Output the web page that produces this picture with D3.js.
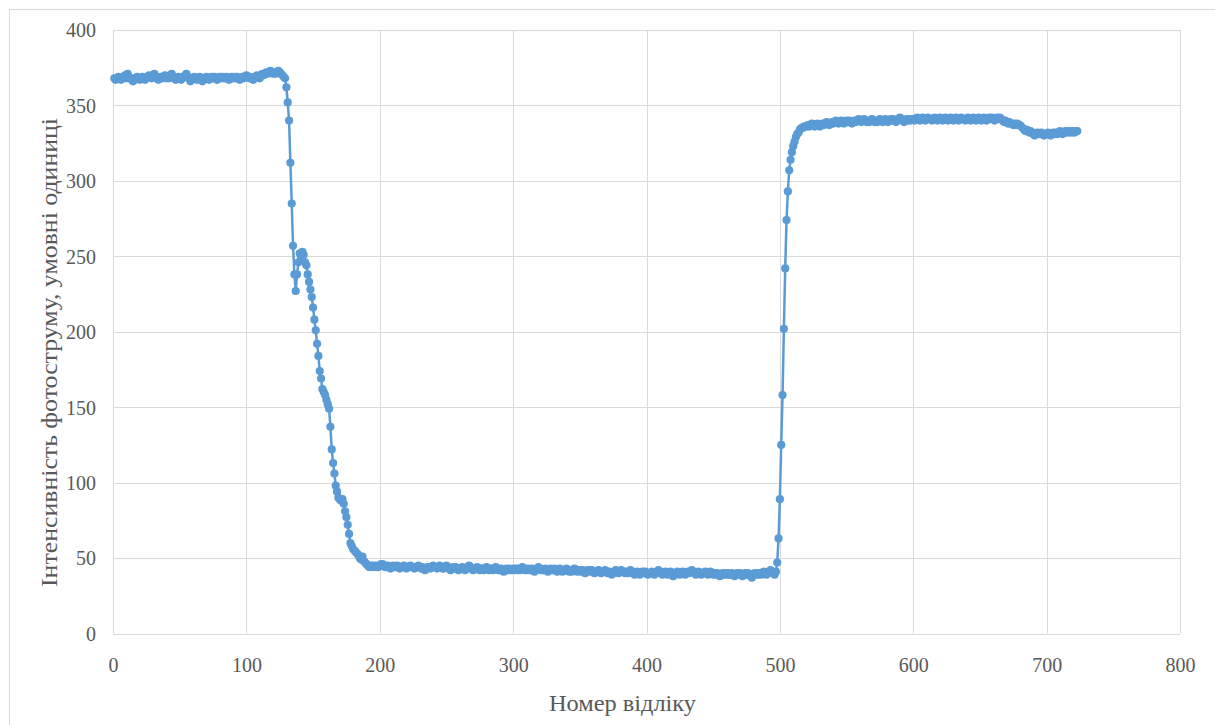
<!DOCTYPE html>
<html>
<head>
<meta charset="utf-8">
<script src="https://cdn.jsdelivr.net/npm/d3@7"></script>
<style>
  html, body { margin: 0; padding: 0; background: #ffffff; }
  svg { display: block; }
  svg text { font-family: 'Liberation Serif', 'Times New Roman', Times, 'DejaVu Serif', serif !important; fill: #595959; }
</style>
</head>
<body>
<svg id="chart" width="1215" height="725"></svg>
<script>
// ---- Data (sample number starts at 1) ----
const xTicks = [0, 100, 200, 300, 400, 500, 600, 700, 800];
const yTicks = [0, 50, 100, 150, 200, 250, 300, 350, 400];
const xTitle = "Номер відліку";
const yTitle = "Інтенсивність фотоструму, умовні одиниці";

// samples 1..128
const plateauHigh = [
  368,367,368,369,368,367,368,369,370,368,371,369,368,367,366,367,368,369,368,367,
  368,369,368,367,368,369,370,369,368,370,371,369,368,367,368,369,368,369,370,368,
  369,368,370,371,369,368,367,368,369,368,367,368,369,370,371,369,368,366,367,368,
  369,368,367,368,369,368,366,367,368,369,368,367,368,369,368,369,368,367,368,369,
  368,369,368,368,369,368,367,368,369,368,369,368,369,368,367,368,369,368,369,370,
  369,368,369,368,367,368,369,370,369,368,370,371,370,371,372,371,372,373,372,371,
  372,371,372,373,372,371,370,369
];
// samples 129..192
const dropValues = [
  368,362,352,340,312,285,257,238,227,238,246,252,249,253,251,246,244,238,233,228,
  223,216,208,201,192,184,174,169,162,160,158,155,152,149,137,122,113,106,98,94,
  90,89,88,89,86,81,77,72,66,60,58,56,55,54,53,52,50,49,51,48,
  47,46,45,44
];
// samples 193..497
const plateauLow = [
  45,44,45,44,45,44,44,45,46,46,
  45,44,44,45,44,43,44,45,44,44,45,44,43,44,44,45,44,43,44,44,
  45,44,44,43,44,44,45,44,43,44,43,42,43,44,44,43,44,45,44,44,
  43,44,45,44,43,43,44,45,44,43,42,43,44,43,44,43,42,43,43,44,
  43,42,43,44,45,44,43,42,43,43,44,43,42,43,43,42,43,44,43,42,
  43,43,42,43,44,43,42,42,43,42,41,42,43,42,43,42,42,43,42,43,
  42,43,42,43,44,43,42,42,43,42,42,43,42,41,42,43,44,43,42,42,
  42,43,42,41,42,43,42,42,43,42,41,42,43,42,41,42,42,43,42,41,
  42,41,42,43,42,41,42,42,41,42,41,40,41,42,42,41,42,41,40,41,
  41,42,41,40,41,41,42,41,40,41,40,39,40,41,42,41,40,41,42,41,
  41,40,41,40,41,42,41,40,39,40,41,40,39,40,41,40,41,40,39,40,
  40,41,40,39,40,41,42,41,40,39,40,41,40,39,40,41,40,38,39,40,
  41,40,39,40,41,40,39,40,41,40,41,42,41,40,39,40,41,40,39,40,
  40,41,40,39,40,41,40,39,40,39,40,39,38,39,40,39,40,39,40,39,
  39,40,39,38,39,40,39,40,39,38,39,40,39,40,39,38,37,39,40,39,
  40,39,40,39,40,41,40,39,40,41,42,41,40,39,41
];
// samples 498..519
const riseValues = [
  47,63,89,125,158,202,242,274,293,307,314,319,323,326,329,331,332,334,335,335,336,336
];
// samples 520..723
const plateauUpper = [
  336,337,336,337,338,337,336,337,338,337,336,337,338,337,338,339,338,337,338,339,
  338,339,340,339,338,339,340,339,338,339,340,339,340,339,338,339,340,339,340,341,
  340,339,340,341,340,339,340,339,340,341,340,339,340,339,340,341,340,339,340,341,
  340,339,340,341,340,341,340,339,340,341,342,341,340,339,340,341,340,341,340,341,
  341,340,341,342,341,340,341,342,341,340,341,342,341,341,340,341,342,341,340,341,
  342,341,340,341,342,341,340,341,342,341,340,341,342,341,340,341,342,341,341,340,
  341,342,341,340,341,342,341,340,341,342,341,340,341,342,341,340,341,342,341,342,
  341,340,341,342,341,342,341,340,339,340,339,338,339,338,338,337,338,337,338,337,
  337,336,335,334,333,334,333,332,333,332,331,330,331,332,331,331,332,331,330,331,
  331,332,331,330,331,332,331,332,331,332,333,332,331,332,333,332,333,332,333,332,
  333,332,333,333
];

const firstSample = 1;
const values = [].concat(plateauHigh, dropValues, plateauLow, riseValues, plateauUpper);
const data = values.map((v, i) => ({ n: firstSample + i, v: v }));

// ---- Layout ----
const svg = d3.select("#chart");
const plotLeft = 113, plotRight = 1180, plotTop = 30, plotBottom = 633.5;
const x = d3.scaleLinear().domain([0, 800]).range([plotLeft, plotRight]);
const y = d3.scaleLinear().domain([0, 400]).range([plotBottom, plotTop]);
const blue = "#5B9BD5";
const serif = "'Liberation Serif', 'Times New Roman', Times, 'DejaVu Serif', serif";

// outer chart border
svg.append("rect")
  .attr("x", 9.5).attr("y", 9.5)
  .attr("width", 1220).attr("height", 740)
  .attr("fill", "#ffffff")
  .attr("stroke", "#d9d9d9").attr("stroke-width", 1);

// gridlines
svg.append("g").selectAll("line").data(yTicks).join("line")
  .attr("x1", plotLeft).attr("x2", plotRight)
  .attr("y1", d => Math.round(y(d)) + 0.5).attr("y2", d => Math.round(y(d)) + 0.5)
  .attr("stroke", "#d9d9d9").attr("stroke-width", 1);
svg.append("g").selectAll("line").data(xTicks).join("line")
  .attr("y1", plotTop).attr("y2", plotBottom)
  .attr("x1", d => Math.round(x(d)) + 0.5).attr("x2", d => Math.round(x(d)) + 0.5)
  .attr("stroke", "#d9d9d9").attr("stroke-width", 1);

// axes (labels only, via d3 axes)
const xAxis = d3.axisBottom(x).tickValues(xTicks).tickSize(0).tickPadding(0).tickFormat(d3.format("d"));
const gx = svg.append("g").attr("transform", `translate(0,${plotBottom + 38})`).call(xAxis)
  .attr("font-family", null);
gx.select(".domain").remove();
gx.selectAll("text").style("font-family", serif).style("font-size", "20px")
  .attr("fill", "#595959").attr("dy", "0");

const yAxis = d3.axisLeft(y).tickValues(yTicks).tickSize(0).tickPadding(0).tickFormat(d3.format("d"));
const gy = svg.append("g").attr("transform", `translate(${plotLeft - 17},0)`).call(yAxis)
  .attr("font-family", null);
gy.select(".domain").remove();
gy.selectAll("text").style("font-family", serif).style("font-size", "20px")
  .attr("fill", "#595959").attr("dy", "0.34em");

// axis titles
svg.append("text")
  .attr("x", 622.5).attr("y", 711)
  .attr("text-anchor", "middle")
  .attr("textLength", 147).attr("lengthAdjust", "spacingAndGlyphs")
  .style("font-family", serif).style("font-size", "24px")
  .text(xTitle);
svg.append("text")
  .attr("transform", `translate(57,352.5) rotate(-90)`)
  .attr("text-anchor", "middle")
  .attr("textLength", 469).attr("lengthAdjust", "spacingAndGlyphs")
  .style("font-family", serif).style("font-size", "24px")
  .text(yTitle);

// series
const line = d3.line().x(d => x(d.n)).y(d => y(d.v));
svg.append("path").datum(data)
  .attr("d", line).attr("fill", "none")
  .attr("stroke", blue).attr("stroke-width", 2.5).attr("stroke-linejoin", "round");
svg.append("g").selectAll("circle").data(data).join("circle")
  .attr("cx", d => x(d.n)).attr("cy", d => y(d.v)).attr("r", 4.1)
  .attr("fill", blue);
</script>
</body>
</html>
